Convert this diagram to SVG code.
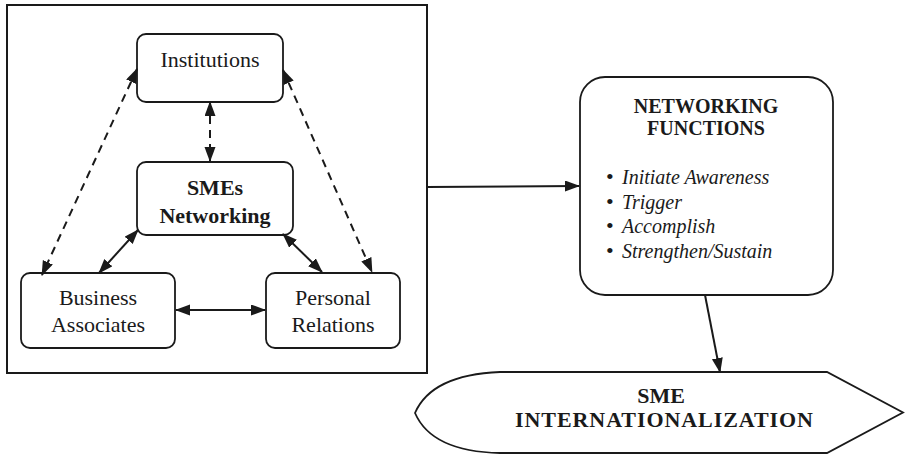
<svg xmlns="http://www.w3.org/2000/svg" width="905" height="455" viewBox="0 0 905 455">
<style>
.box{fill:#fff;stroke:#1a1a1a;stroke-width:1.8}
.frame{fill:none;stroke:#1a1a1a;stroke-width:2}
.t{font-family:"Liberation Serif","Times New Roman",serif;font-size:22px;fill:#1a1a1a;text-anchor:middle}
.b{font-weight:bold}
.it{font-family:"Liberation Serif","Times New Roman",serif;font-size:20px;font-style:italic;fill:#1a1a1a}
.bul{font-style:normal;font-size:22px}
.c{stroke:#1a1a1a;stroke-width:2;fill:none}
.d{stroke-dasharray:8 6}
.two{marker-start:url(#ah);marker-end:url(#ah)}
.one{marker-end:url(#ah)}
</style>
<defs>
<marker id="ah" markerUnits="userSpaceOnUse" markerWidth="16" markerHeight="13" refX="14" refY="5.5" orient="auto-start-reverse">
<path d="M0,0 L15,5.5 L0,11 z" fill="#1a1a1a"/>
</marker>
</defs>
<rect class="frame" x="7" y="5" width="420" height="368"/>
<g id="institutions">
<rect class="box" x="137" y="34" width="146" height="68" rx="9"/>
<text class="t" x="210" y="67">Institutions</text>
</g>
<g id="smes-networking">
<rect class="box" x="137" y="162" width="156" height="73" rx="9"/>
<text class="t b" x="215" y="195">SMEs</text>
<text class="t b" x="215" y="223">Networking</text>
</g>
<g id="business-associates">
<rect class="box" x="21" y="273" width="154" height="75" rx="9"/>
<text class="t" x="98" y="305">Business</text>
<text class="t" x="98" y="332">Associates</text>
</g>
<g id="personal-relations">
<rect class="box" x="266" y="273" width="134" height="75" rx="9"/>
<text class="t" x="333" y="305">Personal</text>
<text class="t" x="333" y="332">Relations</text>
</g>
<g id="networking-functions">
<rect class="box" x="580" y="77" width="253" height="218" rx="25"/>
<text class="t b" x="706" y="113" style="font-size:20px">NETWORKING</text>
<text class="t b" x="706" y="135" style="font-size:20px">FUNCTIONS</text>
<text class="it" x="606" y="184"><tspan class="bul">•</tspan><tspan dx="8.3">Initiate Awareness</tspan></text>
<text class="it" x="606" y="208.5"><tspan class="bul">•</tspan><tspan dx="8.3">Trigger</tspan></text>
<text class="it" x="606" y="233"><tspan class="bul">•</tspan><tspan dx="8.3">Accomplish</tspan></text>
<text class="it" x="606" y="257.5"><tspan class="bul">•</tspan><tspan dx="8.3">Strengthen/Sustain</tspan></text>
</g>
<g id="sme-internationalization">
<path class="box" d="M500,372 L827,372 L903,412.5 L827,453 L500,453 C450,452 425,436 415,413 C425,390 450,374 500,372 Z"/>
<text class="t b" x="661" y="403">SME</text>
<text class="t b" x="664" y="427" textLength="298" lengthAdjust="spacing">INTERNATIONALIZATION</text>
</g>
<g id="connectors">
<line class="c d two" x1="210" y1="102" x2="210" y2="161"/>
<line class="c d two" x1="137" y1="69" x2="42" y2="275"/>
<line class="c d two" x1="283" y1="70" x2="372" y2="272"/>
<line class="c two" x1="138" y1="230" x2="99" y2="273"/>
<line class="c two" x1="283" y1="234" x2="322" y2="272"/>
<line class="c two" x1="176" y1="310" x2="265" y2="310"/>
<line class="c one" x1="427" y1="187" x2="579" y2="186"/>
<line class="c one" x1="705" y1="295" x2="720" y2="372"/>
</g>
</svg>
